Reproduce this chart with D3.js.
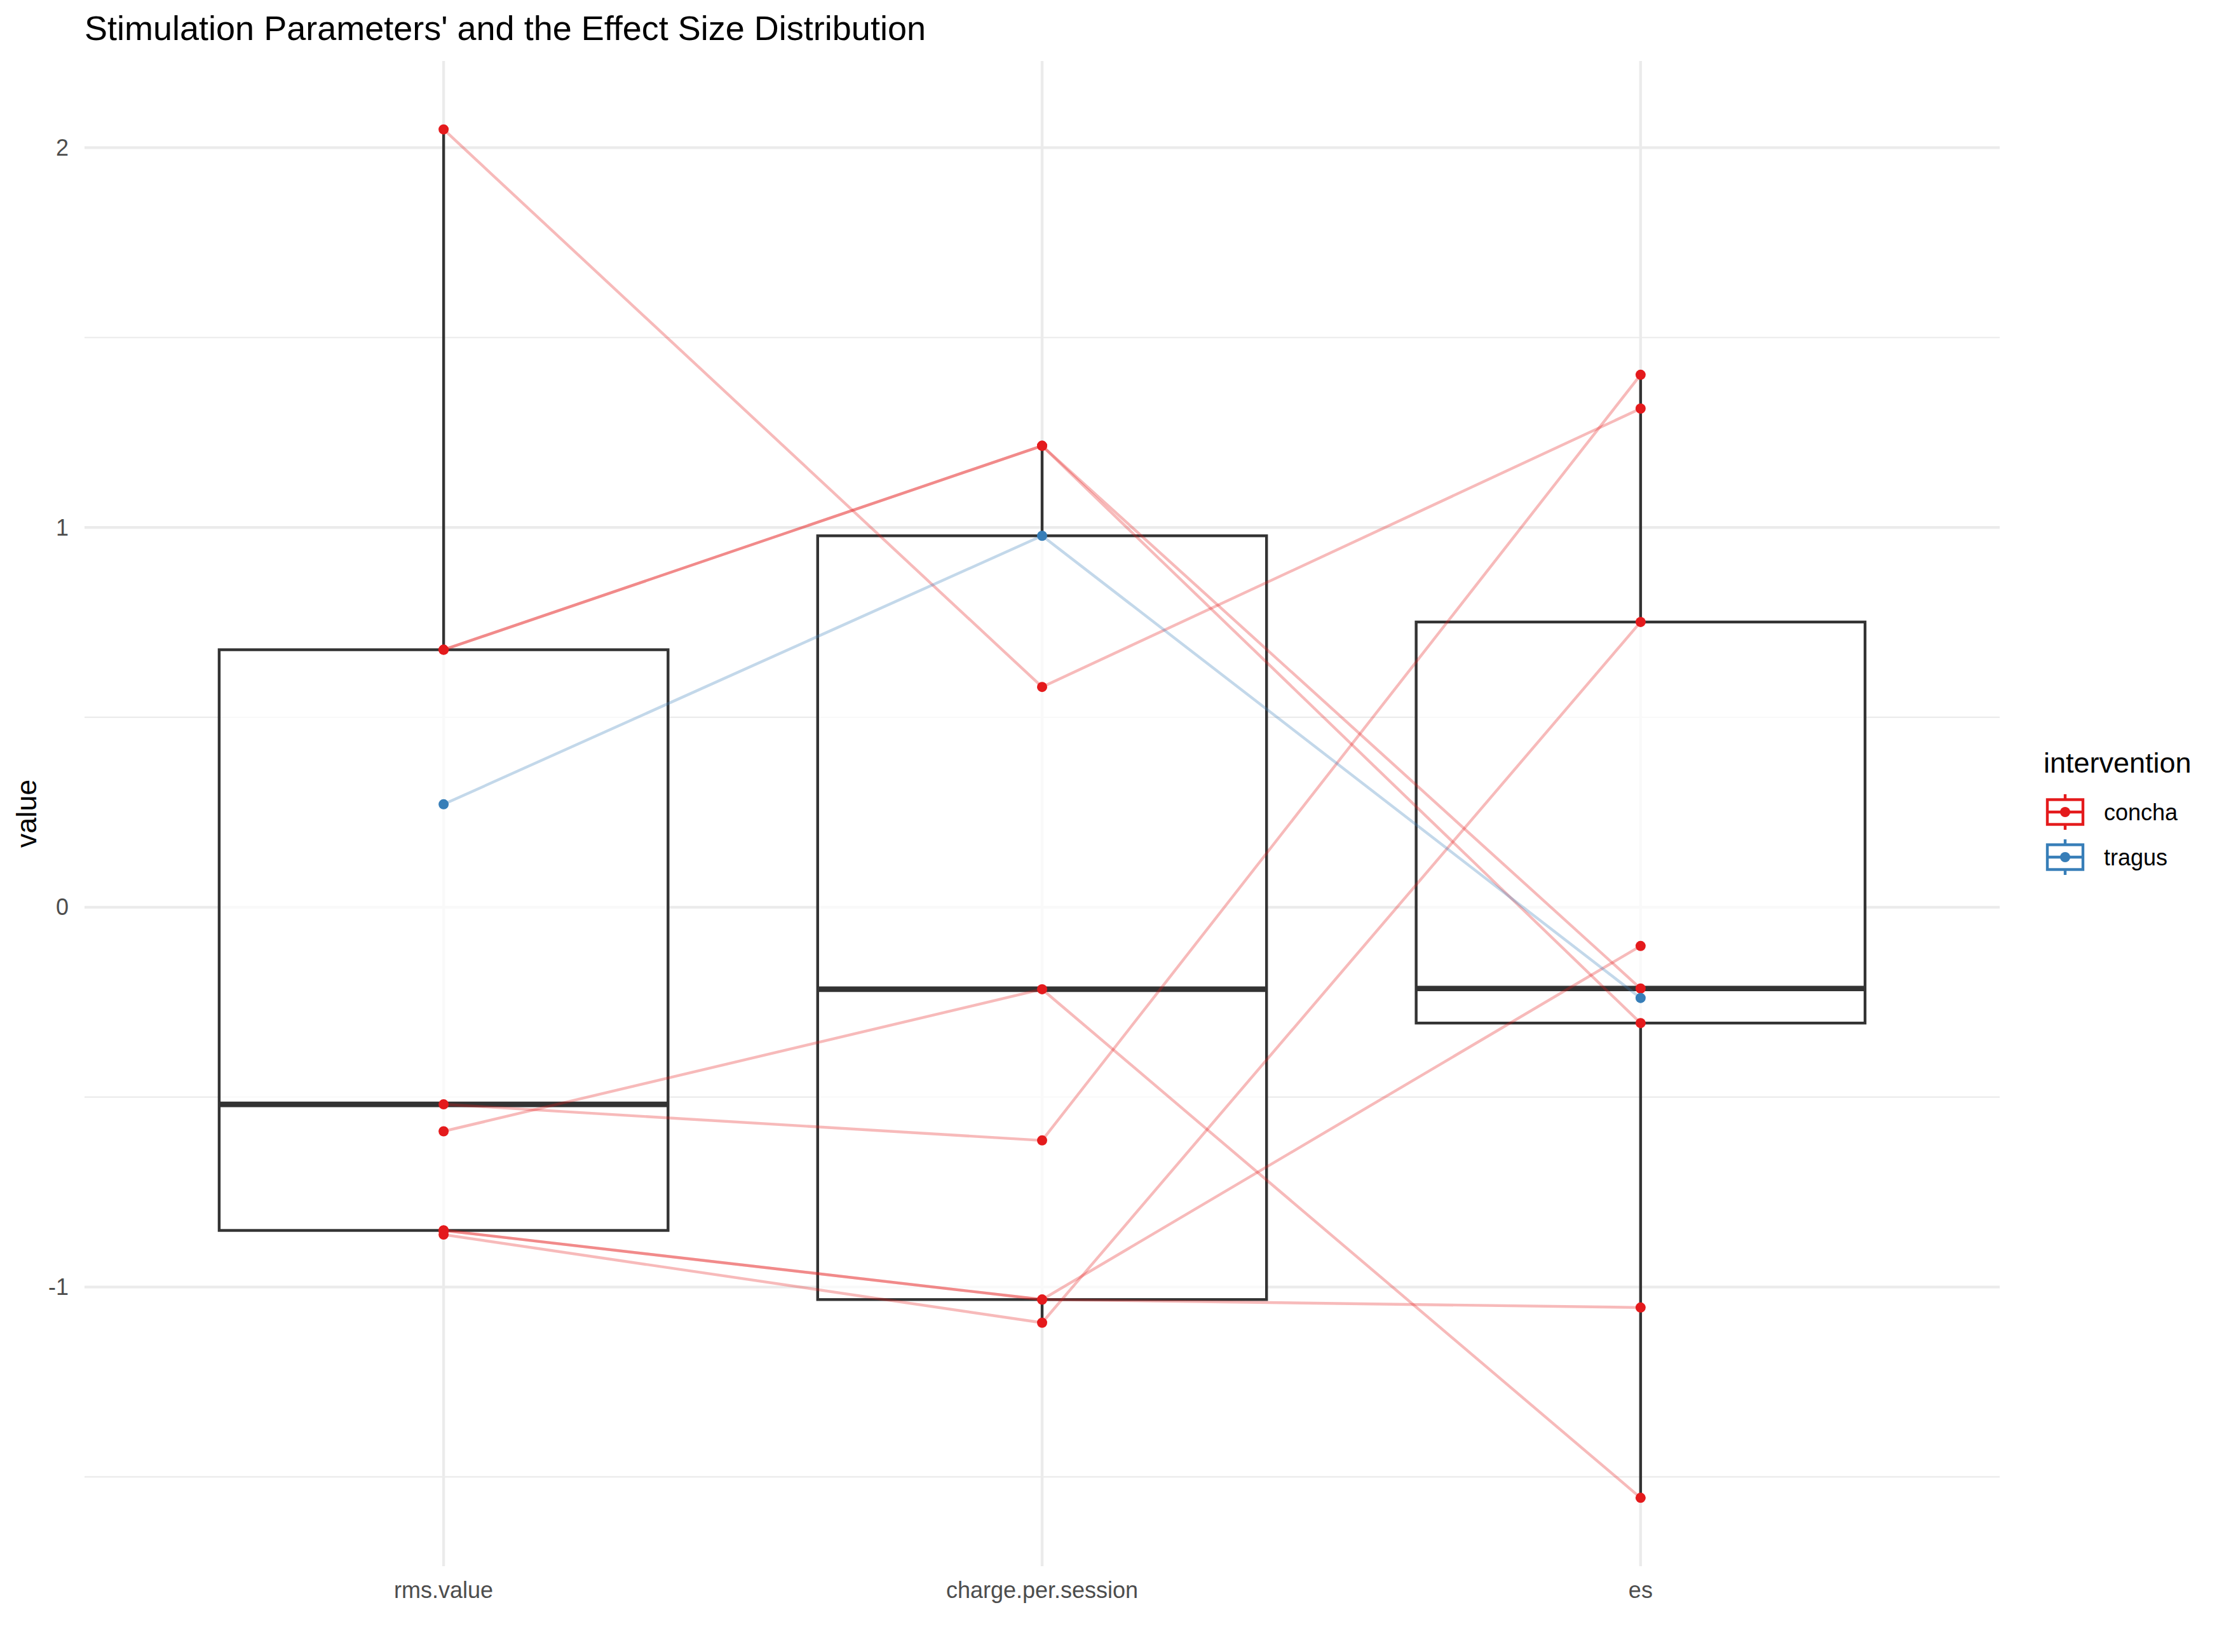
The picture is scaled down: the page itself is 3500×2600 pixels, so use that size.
<!DOCTYPE html>
<html>
<head>
<meta charset="utf-8">
<script src="https://cdn.jsdelivr.net/npm/d3@7"></script>
<style>
  html, body { margin: 0; padding: 0; background: #ffffff; }
  svg { display: block; }
  text { font-family: "Liberation Sans", Arial, sans-serif; }
</style>
</head>
<body>
<script>
// ---------------- data ----------------
const variables = ["rms.value", "charge.per.session", "es"];
const interventions = ["concha", "tragus"];
const studyIntervention = ["concha", "concha", "concha", "concha", "concha", "concha", "concha", "concha", "tragus"];
const rmsValue         = [2.048, 0.678, 0.678, -0.519, -0.590, -0.851, -0.851, -0.862, 0.271];
const chargePerSession = [0.580, 1.215, 1.215, -0.614, -0.216, -1.033, -1.033, -1.094, 0.978];
const esValue          = [1.313, -0.214, -0.305, 1.402, -1.555, -0.102, -1.054, 0.751, -0.239];
const yMajorTicks = [-1, 0, 1, 2];
const yMinorTicks = [-1.5, -0.5, 0.5, 1.5];
const titleText = "Stimulation Parameters' and the Effect Size Distribution";

const seriesByVar = { "rms.value": rmsValue, "charge.per.session": chargePerSession, "es": esValue };
const colorMap = { concha: "#E41A1C", tragus: "#377EB8" };

// ---------------- layout ----------------
const W = 3500, H = 2600;
const panel = { left: 133, right: 3147, top: 96, bottom: 2465 };

const svg = d3.select("body").append("svg").attr("width", W).attr("height", H);
svg.append("rect").attr("width", W).attr("height", H).attr("fill", "#ffffff");

const x = d3.scalePoint().domain(variables).range([panel.left, panel.right]).padding(0.6);

const allVals = [].concat(rmsValue, chargePerSession, esValue);
const yMin = d3.min(allVals), yMax = d3.max(allVals);
const pad = (yMax - yMin) * 0.05;
const y = d3.scaleLinear().domain([yMin - pad, yMax + pad]).range([panel.bottom, panel.top]);

const grid = svg.append("g");
// minor grid
grid.selectAll("line.minor").data(yMinorTicks).enter().append("line")
  .attr("x1", panel.left).attr("x2", panel.right)
  .attr("y1", d => y(d)).attr("y2", d => y(d))
  .attr("stroke", "#EBEBEB").attr("stroke-width", 2.2);
// major y grid
grid.selectAll("line.majory").data(yMajorTicks).enter().append("line")
  .attr("x1", panel.left).attr("x2", panel.right)
  .attr("y1", d => y(d)).attr("y2", d => y(d))
  .attr("stroke", "#EBEBEB").attr("stroke-width", 4.4);
// major x grid
grid.selectAll("line.majorx").data(variables).enter().append("line")
  .attr("x1", d => x(d)).attr("x2", d => x(d))
  .attr("y1", panel.top).attr("y2", panel.bottom)
  .attr("stroke", "#EBEBEB").attr("stroke-width", 4.4);

// ---------------- boxplots ----------------
const boxW = x.step() * 0.75;
const boxStats = variables.map(v => {
  const vals = seriesByVar[v].slice().sort(d3.ascending);
  const q1 = d3.quantile(vals, 0.25), med = d3.quantile(vals, 0.5), q3 = d3.quantile(vals, 0.75);
  const iqr = q3 - q1;
  const lo = d3.min(vals.filter(d => d >= q1 - 1.5 * iqr));
  const hi = d3.max(vals.filter(d => d <= q3 + 1.5 * iqr));
  return { v, q1, med, q3, lo, hi };
});
const boxes = svg.append("g");
boxStats.forEach(s => {
  const cx = x(s.v);
  boxes.append("line").attr("x1", cx).attr("x2", cx).attr("y1", y(s.q3)).attr("y2", y(s.hi))
    .attr("stroke", "#333333").attr("stroke-width", 4.4);
  boxes.append("line").attr("x1", cx).attr("x2", cx).attr("y1", y(s.q1)).attr("y2", y(s.lo))
    .attr("stroke", "#333333").attr("stroke-width", 4.4);
  boxes.append("rect").attr("x", cx - boxW / 2).attr("y", y(s.q3))
    .attr("width", boxW).attr("height", y(s.q1) - y(s.q3))
    .attr("fill", "#ffffff").attr("fill-opacity", 0.7)
    .attr("stroke", "#333333").attr("stroke-width", 4.4);
  boxes.append("line").attr("x1", cx - boxW / 2).attr("x2", cx + boxW / 2)
    .attr("y1", y(s.med)).attr("y2", y(s.med))
    .attr("stroke", "#333333").attr("stroke-width", 8.7);
});

// ---------------- lines & points ----------------
const studies = studyIntervention.map((iv, i) => ({
  iv, pts: variables.map(v => ({ v, val: seriesByVar[v][i] }))
}));
const order = studies.slice().sort((a, b) => interventions.indexOf(a.iv) - interventions.indexOf(b.iv));
const lineGen = d3.line().x(d => x(d.v)).y(d => y(d.val));
const lines = svg.append("g");
order.forEach(s => {
  lines.append("path").attr("d", lineGen(s.pts))
    .attr("fill", "none").attr("stroke", colorMap[s.iv]).attr("stroke-opacity", 0.3)
    .attr("stroke-width", 4.4).attr("stroke-linejoin", "round");
});
const pts = svg.append("g");
order.forEach(s => {
  s.pts.forEach(p => {
    pts.append("circle").attr("cx", x(p.v)).attr("cy", y(p.val)).attr("r", 8)
      .attr("fill", colorMap[s.iv]);
  });
});

// ---------------- axes ----------------
const yAxisG = svg.append("g");
yMajorTicks.forEach(t => {
  yAxisG.append("text").attr("x", 108).attr("y", y(t) + 12.5)
    .attr("text-anchor", "end").attr("font-size", 36).attr("fill", "#4D4D4D").text(String(t));
});
const xAxisG = svg.append("g");
variables.forEach(v => {
  xAxisG.append("text").attr("x", x(v)).attr("y", 2515)
    .attr("text-anchor", "middle").attr("font-size", 36).attr("fill", "#4D4D4D").text(v);
});
svg.append("text").attr("transform", `translate(57,${(panel.top + panel.bottom) / 2}) rotate(-90)`)
  .attr("text-anchor", "middle").attr("font-size", 45).attr("fill", "#000000").text("value");

// title
svg.append("text").attr("x", 133).attr("y", 63).attr("font-size", 54).attr("fill", "#000000").text(titleText);

// ---------------- legend ----------------
const leg = svg.append("g");
leg.append("text").attr("x", 3216).attr("y", 1216).attr("font-size", 45).attr("fill", "#000000").text("intervention");
interventions.forEach((iv, i) => {
  const cy = 1278 + i * 71;
  const c = colorMap[iv];
  const kx = 3250;
  leg.append("line").attr("x1", kx).attr("x2", kx).attr("y1", cy - 28).attr("y2", cy + 28)
    .attr("stroke", c).attr("stroke-width", 4.4);
  leg.append("rect").attr("x", kx - 28).attr("y", cy - 19.5).attr("width", 56).attr("height", 39)
    .attr("fill", "#ffffff").attr("stroke", c).attr("stroke-width", 4.4);
  leg.append("line").attr("x1", kx - 28).attr("x2", kx + 28).attr("y1", cy).attr("y2", cy)
    .attr("stroke", c).attr("stroke-width", 4.4);
  leg.append("circle").attr("cx", kx).attr("cy", cy).attr("r", 8).attr("fill", c);
  leg.append("text").attr("x", 3311).attr("y", cy + 13).attr("font-size", 36).attr("fill", "#000000").text(iv);
});
</script>
</body>
</html>
